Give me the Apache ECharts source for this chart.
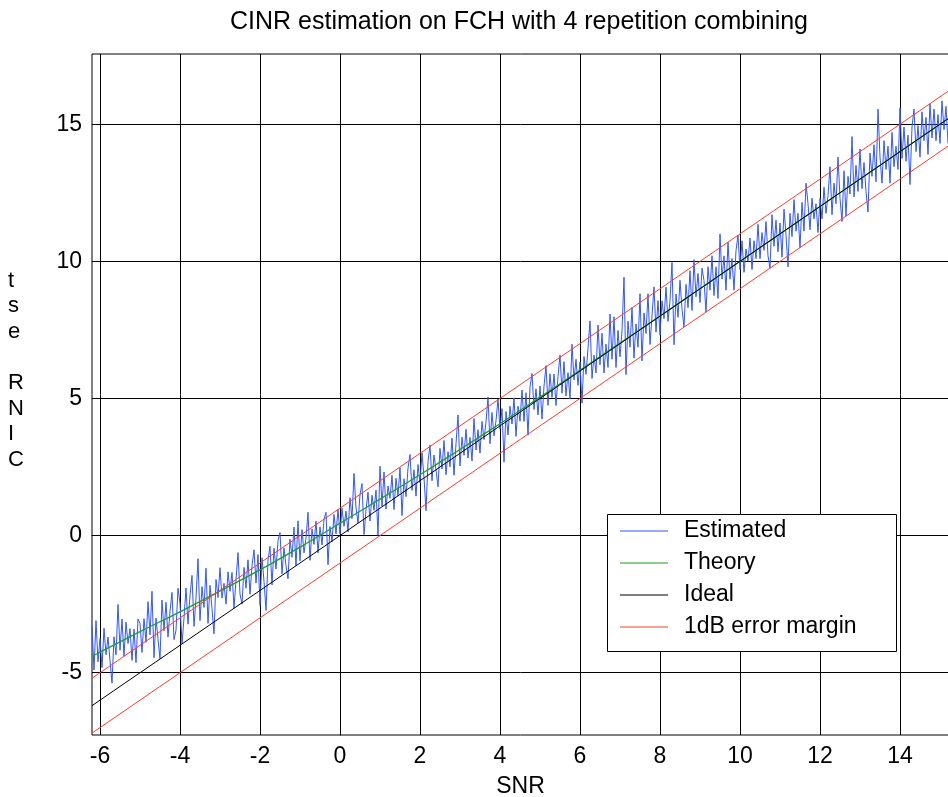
<!DOCTYPE html>
<html><head><meta charset="utf-8">
<script src="https://cdn.jsdelivr.net/npm/echarts@6/dist/echarts.min.js"></script>
<style>html,body{margin:0;padding:0;background:#fff}#c{width:948px;height:797px}</style>
</head><body><div id="c"></div>
<script>
// ---- data ----
const EST_START = -6.2, EST_STEP = 0.05;   // SNR grid of the estimated curve
const estimated = [
-3.30,-4.90,-3.10,-4.60,
-3.75,-4.81,-3.38,-4.34,-3.70,-4.56,-5.38,-3.69,-4.35,-2.51,-4.18,-3.04,-4.40,-3.16,-3.93,-3.39,-4.55,-3.41,-4.63,-3.04,
-3.20,-4.26,-3.03,-3.89,-2.41,-3.62,-2.03,-4.45,-3.01,-3.78,-4.49,-2.35,-3.47,-2.43,-3.70,-2.76,-2.07,-3.79,-3.45,-1.92,
-2.48,-3.94,-3.00,-1.91,-3.23,-2.19,-1.45,-3.31,-2.28,-0.84,-3.10,-1.86,-2.62,-1.19,-3.20,-1.81,-2.67,-3.58,-1.60,-2.26,
-1.17,-2.28,-1.74,-2.50,-1.32,-2.03,-1.34,-2.65,-1.61,-0.62,-2.13,-2.50,-1.16,-1.92,-0.88,-2.14,-1.10,-0.52,-1.73,-0.69,
-2.55,-0.81,-1.67,-2.73,-0.89,-0.39,-1.80,-0.46,-1.22,-0.18,0.11,-1.39,-0.45,-1.11,-1.57,-0.13,-0.79,0.31,-1.10,0.54,
-0.92,0.22,-0.63,-0.09,0.85,-0.90,0.24,-0.32,0.53,-0.63,0.32,-0.34,0.60,0.85,-1.06,0.33,-0.22,0.77,0.06,0.96,
0.05,1.00,0.34,0.89,0.13,1.38,0.62,2.27,1.01,0.46,1.50,1.90,0.04,0.94,1.58,0.53,1.47,0.92,1.66,0.01,
2.53,1.08,2.32,0.97,1.81,1.36,2.20,0.95,2.09,1.44,2.48,0.73,2.07,1.42,2.46,2.96,1.65,2.40,1.44,2.59,
1.92,3.02,2.11,0.91,2.70,3.30,2.00,2.94,2.39,1.78,3.18,2.43,3.47,2.22,3.06,2.51,3.56,2.20,3.35,4.40,
2.54,3.59,2.93,3.88,2.83,3.58,2.72,4.27,3.12,3.86,3.01,4.16,3.50,4.15,5.05,3.35,4.49,3.64,4.19,4.98,
3.88,4.63,2.68,4.53,3.67,4.72,4.07,5.02,3.62,4.72,4.17,5.31,4.16,5.21,3.66,5.41,5.91,4.60,5.35,4.40,
5.45,4.25,5.45,6.20,4.75,5.90,5.04,5.89,4.74,5.79,6.59,5.19,6.34,5.09,5.94,4.99,6.98,5.68,6.43,5.48,
6.33,4.83,6.53,5.88,6.83,7.83,5.73,6.58,5.93,7.68,6.23,7.38,5.93,6.98,6.13,8.08,6.43,7.98,6.13,7.48,
6.52,7.47,9.42,5.87,7.82,6.87,8.32,6.47,7.72,6.87,8.82,6.37,8.12,7.37,8.82,6.97,8.02,9.07,7.42,8.57,
7.31,8.56,7.91,9.06,7.81,8.56,9.96,6.96,8.81,7.96,9.31,8.26,7.61,9.16,8.31,9.66,8.21,10.06,8.71,9.56,
8.50,9.75,9.30,8.15,9.80,8.95,10.20,8.75,9.80,8.65,11.00,9.35,10.20,8.95,10.70,9.35,10.10,8.95,10.40,10.95,
9.70,10.75,9.60,10.45,10.00,10.85,9.70,10.75,10.10,11.35,10.10,11.05,10.40,11.45,10.20,9.75,11.70,10.55,11.50,10.35,
11.40,10.15,11.90,10.95,9.80,11.75,10.90,12.25,11.10,11.75,10.50,12.15,11.10,12.85,12.10,11.15,12.30,11.55,12.10,11.05,
12.30,11.55,12.70,11.75,12.40,13.45,11.70,12.85,12.10,13.80,12.30,11.45,13.30,11.65,13.10,12.45,14.55,12.35,13.50,12.55,
14.10,12.65,13.60,12.55,11.80,13.95,13.10,14.25,12.90,15.55,13.80,12.85,14.40,13.35,14.20,12.85,14.70,13.45,14.20,13.35,
15.60,13.75,14.90,13.65,14.60,12.80,14.90,15.55,14.00,14.95,13.80,15.45,14.40,15.25,13.90,15.75,14.50,15.55,14.40,15.35,14.30,15.85,14.80,15.65,14.30
];
const theorySnr  = [-6.2,-6,-5,-4,-3,-2,-1,0,1,2,3,4,5,6,7,8,9,15.25];
const theoryCinr = [-4.40,-4.25,-3.50,-2.78,-2.02,-1.25,-0.42,0.45,1.33,2.22,3.14,4.08,5.05,6.03,7.02,8.01,9.00,15.25];
const idealSnr   = [-6.2, 15.25];
const idealCinr  = [-6.2, 15.25];
const upperCinr  = [-5.2, 16.25];
const lowerCinr  = [-7.2, 14.25];
const xTicks = [-6,-4,-2,0,2,4,6,8,10,12,14];
const yTicks = [-5,0,5,10,15];

// ---- build series data ----
const pairs = (xs, ys) => xs.map((x, i) => [x, ys[i]]);
const estData = estimated.map((v, i) => [+(EST_START + i * EST_STEP).toFixed(2), v]);

const FONT = 'Liberation Sans, Arial, Helvetica, sans-serif';
const chart = echarts.init(document.getElementById('c'), null, {renderer: 'canvas'});
const lineS = (name, data, color, extra) => Object.assign({
  name, type: 'line', data, symbol: 'none', showSymbol: false, animation: false,
  lineStyle: {color, width: 1}, itemStyle: {color}, clip: true, emphasis: {disabled: true}
}, extra || {});

chart.setOption({
  animation: false,
  backgroundColor: '#fff',
  title: {
    text: 'CINR estimation on FCH with 4 repetition combining',
    left: 514, top: 5, textAlign: 'center',
    textStyle: {fontFamily: FONT, fontSize: 25, fontWeight: 'normal', color: '#000'}
  },
  grid: {left: 92, top: 54, right: -1, bottom: 62, show: true, borderColor: '#000', borderWidth: 1,
         containLabel: false, outerBoundsMode: 'none'},
  xAxis: {
    type: 'value', min: -6.2, max: 15.225,
    name: 'SNR', nameLocation: 'middle', nameGap: 40,
    nameTextStyle: {fontFamily: FONT, fontSize: 23, color: '#000'},
    axisLine: {show: true, lineStyle: {color: '#000', width: 1}},
    axisTick: {show: true, inside: true, length: 8, customValues: xTicks, lineStyle: {color: '#000'}},
    axisLabel: {customValues: xTicks, fontFamily: FONT, fontSize: 23, color: '#000', margin: 10},
    splitLine: {show: true, lineStyle: {color: '#000', width: 1}}
  },
  yAxis: {
    type: 'value', min: -7.27, max: 17.56,
    axisLine: {show: true, lineStyle: {color: '#000', width: 1}},
    axisTick: {show: true, inside: true, length: 8, customValues: yTicks, lineStyle: {color: '#000'}},
    axisLabel: {customValues: yTicks, fontFamily: FONT, fontSize: 23, color: '#000', margin: 10},
    splitLine: {show: true, lineStyle: {color: '#000', width: 1}}
  },
  legend: {
    orient: 'vertical', left: 620, top: 519, padding: 0,
    icon: 'rect', itemWidth: 48, itemHeight: 1, itemGap: 8,
    data: ['Estimated', 'Theory', 'Ideal', '1dB error margin'],
    textStyle: {fontFamily: FONT, fontSize: 23, color: '#000', lineHeight: 24, padding: [0, 0, 0, 11]},
    selectedMode: false
  },
  graphic: [
    {type: 'rect', shape: {x: 607.5, y: 514.5, width: 289, height: 137}, z: 3,
     style: {fill: '#fff', stroke: '#000', lineWidth: 1}, silent: true},
    {type: 'text', left: 8, top: 268, z: 10, silent: true,
     style: {text: 't\ns\ne\n \nR\nN\nI\nC', fontFamily: FONT, fontSize: 22, lineHeight: 25.6, fill: '#000', align: 'center'}}
  ],
  series: [
    lineS('Estimated', estData, '#3355ff'),
    lineS('Theory', pairs(theorySnr, theoryCinr), '#1fa01f', {smooth: 0.3, lineStyle: {color: '#1fa01f', width: 1.3}}),
    lineS('Ideal', pairs(idealSnr, idealCinr), '#000000'),
    lineS('1dB error margin', pairs(idealSnr, upperCinr), '#ff3b2b'),
    lineS('1dB error margin', pairs(idealSnr, lowerCinr), '#ff3b2b')
  ]
});
</script></body></html>
